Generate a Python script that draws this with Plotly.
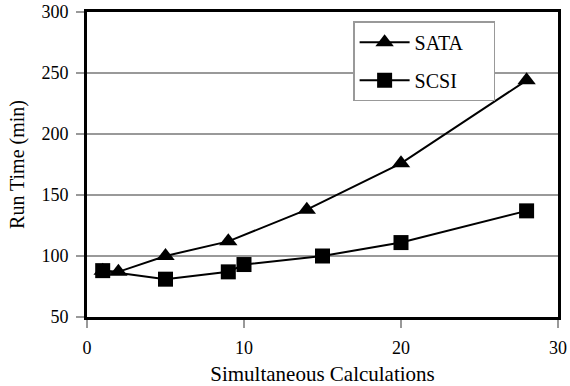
import plotly.graph_objects as go

sata_x = [1, 2, 5, 9, 14, 20, 28]
sata_y = [88, 87, 100, 112, 138, 176, 244]
scsi_x = [1, 5, 9, 10, 15, 20, 28]
scsi_y = [88, 81, 87, 93, 100, 111, 137]

FONT = "Liberation Serif"
PAD = "\u00a0" * 5

fig = go.Figure()
fig.add_trace(go.Scatter(x=sata_x, y=sata_y, name="SATA" + PAD, mode="lines+markers",
                         legendgroup="a",
                         line=dict(color="black", width=2),
                         marker=dict(symbol="triangle-up", size=16, color="black")))
fig.add_trace(go.Scatter(x=scsi_x, y=scsi_y, name="SCSI" + PAD, mode="lines+markers",
                         legendgroup="b",
                         line=dict(color="black", width=2),
                         marker=dict(symbol="square", size=15, color="black")))

fig.update_layout(
    width=570, height=386,
    margin=dict(l=87, r=12, t=12, b=69),
    paper_bgcolor="white", plot_bgcolor="white",
    font=dict(family=FONT, size=18, color="black"),
    showlegend=True,
    legend=dict(x=0.565, y=0.97, xanchor="left", yanchor="top",
                bgcolor="white", bordercolor="#999999", borderwidth=1.5,
                font=dict(family=FONT, size=20), itemwidth=50,
                tracegroupgap=9),
    xaxis=dict(range=[0, 30], tickvals=[0, 10, 20, 30], showgrid=False,
               zeroline=False, showline=True, linecolor="black", linewidth=3,
               mirror=True, ticks="outside", ticklen=8, tickcolor="#999999",
               tickwidth=1.5, ticklabelstandoff=4, automargin=False,
               title=dict(text="Simultaneous Calculations", font=dict(family=FONT, size=21), standoff=16)),
    yaxis=dict(range=[50, 300], tickvals=[50, 100, 150, 200, 250, 300],
               showgrid=True, gridcolor="#999999", gridwidth=1.5,
               zeroline=False, showline=True, linecolor="black", linewidth=3,
               mirror=True, ticks="outside", ticklen=8, tickcolor="#999999",
               tickwidth=1.5, ticklabelstandoff=4, automargin=False,
               title=dict(text="Run Time (min)", font=dict(family=FONT, size=20), standoff=12)),
)

fig.write_html("out.html")
